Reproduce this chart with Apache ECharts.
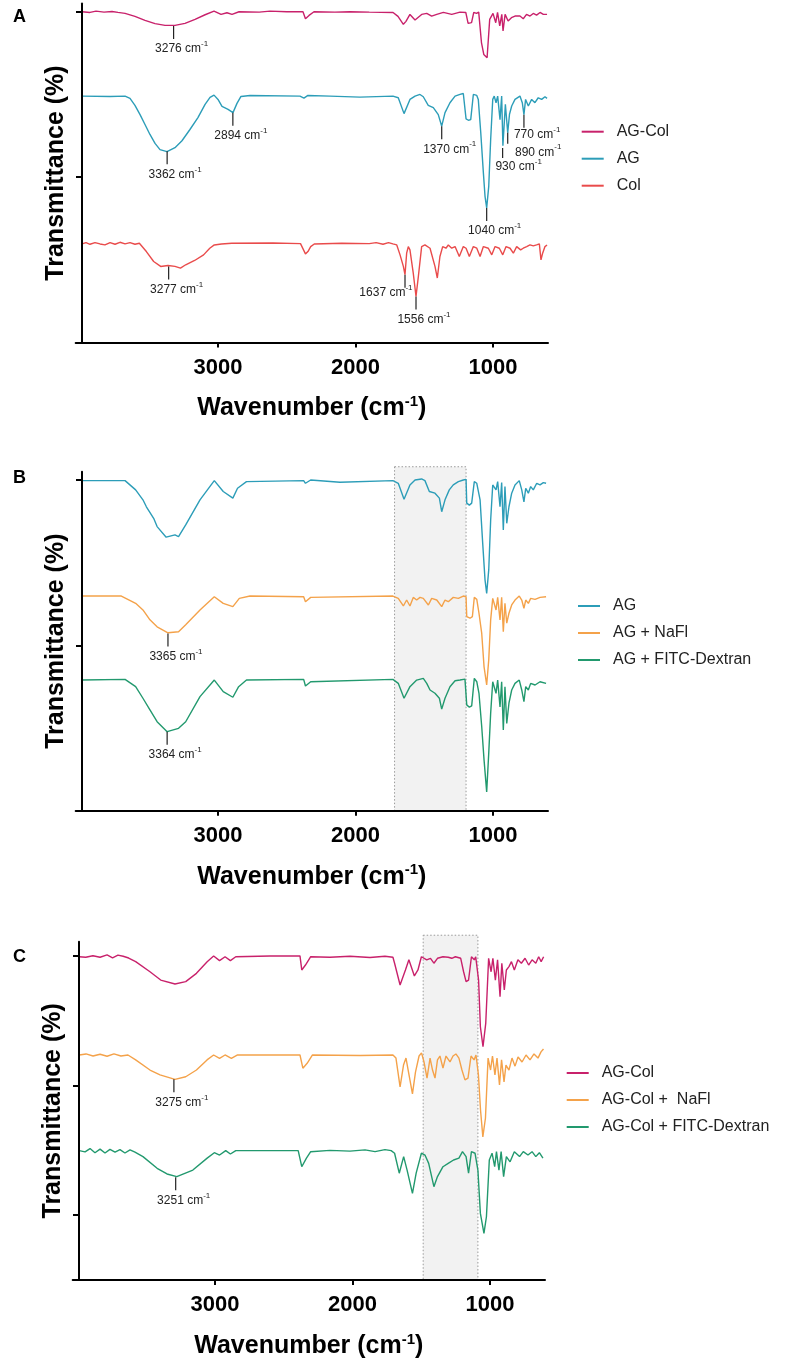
<!DOCTYPE html>
<html><head><meta charset="utf-8">
<script src="https://cdn.jsdelivr.net/npm/echarts@6/dist/echarts.min.js"></script>
<style>html,body{margin:0;padding:0;background:#fff}#c{width:787px;height:1365px}</style>
</head><body><div id="c"></div>
<script>
// ---------- DATA (wavenumber cm-1, stacked transmittance %) ----------
const X_TICKS = [1000, 2000, 3000];
const Y_TICKS = [0, 50, 100];

// Panel A
const AG_COL_A = [[3989,100],[3931,99.8],[3887,100.2],[3829,99.9],[3771,100.1],[3728,99.8],[3676,99.5],[3604,98.6],[3531,97.4],[3458,96.4],[3385,95.9],[3313,95.9],[3240,96.5],[3167,97.7],[3094,99.1],[3029,100.2],[2978,99.2],[2935,99.7],[2898,99.2],[2847,100],[2700,99.9],[2622,100.2],[2500,100],[2382,100],[2364,97.9],[2338,98.9],[2302,100],[2150,99.9],[2040,100],[1900,99.9],[1727,99.8],[1691,98.6],[1652,96.2],[1633,97.1],[1604,99.2],[1567,97.5],[1519,99.2],[1482,99.5],[1446,98.7],[1409,99.2],[1361,99.8],[1300,99.2],[1240,99.9],[1198,99.8],[1181,96.5],[1156,96.7],[1140,99.8],[1120,99.5],[1104,99.9],[1084,90.7],[1067,87.1],[1043,86.1],[1024,97.7],[1000,99.5],[980,96.7],[967,99.8],[951,95.7],[936,99.2],[927,94.2],[912,99.2],[890,97.2],[866,98.2],[840,98.7],[804,98.7],[780,97.9],[756,99.2],[731,98.7],[707,99.5],[683,99.0],[658,99.8],[634,99.2],[622,99.8],[607,99.2]];
const AG_A = [[3989,74.5],[3785,74.4],[3676,74.5],[3640,73.8],[3604,71.7],[3567,68.9],[3531,65.9],[3495,62.9],[3458,60.2],[3422,58.3],[3371,57.7],[3313,58.9],[3262,61.0],[3204,64.4],[3146,68.0],[3094,72.0],[3058,74.1],[3029,74.8],[3000,73.5],[2971,71.4],[2927,70.5],[2891,69.5],[2862,72.3],[2833,74.4],[2767,74.7],[2404,74.5],[2375,73.9],[2346,74.7],[2186,74.5],[1968,74.2],[1728,74.5],[1689,74.0],[1647,69.2],[1604,73.5],[1567,74.5],[1531,75.0],[1507,74.3],[1471,71.7],[1434,71.0],[1398,68.9],[1373,65.4],[1349,69.5],[1313,72.5],[1276,74.5],[1240,75.0],[1216,75.3],[1196,67.6],[1179,67.2],[1162,67.4],[1143,75.0],[1131,74.5],[1118,74.7],[1107,73.5],[1089,63.4],[1070,51.3],[1058,44.2],[1046,40.7],[1031,47.2],[1017,61.4],[1002,73.5],[991,74.5],[978,72.5],[966,74.5],[949,67.4],[937,74.5],[928,59.5],[910,72],[893,63.4],[880,69],[864,71.5],[840,73.5],[804,74.5],[787,72.5],[775,68.9],[763,73.5],[743,71.5],[719,73.5],[695,72.5],[671,74.0],[646,73.5],[622,74.3],[607,73.8]];
const COL_A = [[3989,29.8],[3960,30.2],[3931,29.7],[3895,30.2],[3858,29.8],[3822,29.5],[3785,30.2],[3749,29.7],[3713,30.3],[3676,29.8],[3640,30.2],[3604,29.7],[3572,30.0],[3521,27.5],[3468,24.5],[3417,23.0],[3364,23.3],[3313,23.0],[3273,22.5],[3235,23.5],[3170,24.8],[3105,26.5],[3060,28.5],[3027,29.5],[2975,29.8],[2900,30],[2600,30.1],[2400,29.9],[2364,26.8],[2346,27.5],[2326,29.0],[2300,29.8],[2100,30],[1900,29.9],[1850,30.2],[1800,29.7],[1760,30.2],[1728,29.8],[1700,29.5],[1676,26.5],[1652,23.0],[1640,20.5],[1628,27.0],[1616,29.0],[1604,28.0],[1580,21.0],[1560,13.9],[1543,19.9],[1519,29.0],[1495,29.5],[1458,28.5],[1422,23.0],[1405,19.5],[1386,26.0],[1366,29.0],[1342,28.5],[1325,29.5],[1300,28.5],[1276,29.0],[1245,26.0],[1216,29.0],[1196,28.5],[1172,26.0],[1143,29.0],[1118,28.5],[1094,26.0],[1070,29.0],[1034,28.5],[1009,26.5],[985,29.0],[954,28.5],[929,26.5],[905,29.0],[876,28.5],[852,27.0],[828,29.0],[799,28.0],[780,28.5],[755,29.0],[731,29.5],[707,29.2],[683,29.5],[663,29.8],[651,25.0],[639,27.0],[622,29.0],[607,29.5]];

// Panel B
const AG_B = [[3989,99.8],[3676,99.8],[3599,97.0],[3546,94.0],[3521,91.9],[3468,88.4],[3443,85.9],[3377,82.7],[3313,83.4],[3287,82.9],[3235,86.4],[3131,94.0],[3027,99.8],[2962,96.5],[2892,94.5],[2858,97.5],[2793,99.5],[2377,99.8],[2364,99.0],[2326,100],[2113,99.3],[1728,99.8],[1689,99.0],[1647,94.2],[1604,98.5],[1567,100],[1519,100.3],[1495,99.8],[1463,96.5],[1422,96.0],[1390,94.5],[1373,90.4],[1349,94.0],[1318,97.0],[1289,98.5],[1252,99.5],[1216,100],[1196,100.2],[1191,93.0],[1172,92.4],[1155,93.0],[1136,99.5],[1118,99.0],[1107,99.2],[1094,94.0],[1075,80.9],[1058,69.8],[1046,65.7],[1031,72.8],[1017,87.9],[1002,98.5],[990,99.0],[978,97.0],[966,99.5],[949,91.9],[937,99.2],[925,84.9],[913,98.0],[900,86.9],[884,91.9],[864,96.0],[840,98.5],[809,99.8],[791,97.0],[775,93.4],[762,97.5],[743,96.0],[726,98.0],[707,97.0],[682,99.0],[658,98.5],[634,99.2],[614,99.0]];
const AG_NAFL_B = [[3989,64.9],[3703,64.9],[3599,62.7],[3546,60.7],[3495,57.7],[3443,55.6],[3364,53.8],[3287,54.1],[3235,56.2],[3131,60.7],[3027,64.7],[2962,62.7],[2892,61.7],[2845,64.2],[2767,64.9],[2377,64.7],[2364,63.2],[2326,64.5],[1728,64.9],[1689,64.2],[1652,61.9],[1628,63.7],[1604,61.9],[1580,64.5],[1555,63.7],[1531,64.5],[1507,64.2],[1470,62.2],[1446,64.2],[1409,63.7],[1373,61.7],[1349,63.7],[1325,63.2],[1289,64.5],[1252,64.2],[1216,64.9],[1196,64.7],[1191,58.7],[1167,58.2],[1150,58.7],[1136,64.5],[1118,63.9],[1102,59.7],[1082,53.6],[1065,43.5],[1046,38.0],[1031,45.6],[1017,57.7],[1002,64.2],[990,63.7],[978,60.7],[966,64.5],[949,57.7],[937,64.5],[925,54.1],[913,62.7],[900,56.7],[884,59.7],[864,62.2],[840,63.7],[809,64.9],[791,63.7],[775,61.2],[762,63.7],[743,62.7],[726,64.2],[694,63.9],[658,64.5],[614,64.7]];
const AG_FITC_B = [[3989,39.5],[3676,39.7],[3599,37.5],[3546,34.0],[3495,30.5],[3443,26.9],[3370,23.9],[3287,24.9],[3235,26.9],[3131,34.5],[3027,39.5],[2962,36.0],[2892,34.3],[2850,37.5],[2793,39.5],[2377,39.7],[2364,37.7],[2326,39.0],[1728,39.7],[1689,38.5],[1647,34.0],[1604,37.5],[1555,39.5],[1507,40.0],[1482,38.5],[1458,36.5],[1422,35.5],[1390,34.0],[1373,30.7],[1349,34.0],[1313,37.5],[1276,39.3],[1240,39.5],[1204,39.8],[1191,32.0],[1172,31.3],[1155,31.7],[1136,40.0],[1118,39.0],[1102,35.5],[1082,25.4],[1065,15.3],[1046,5.7],[1031,17.4],[1017,29.5],[1002,39.0],[990,38.5],[978,35.5],[966,39.5],[949,31.4],[937,39.0],[925,24.4],[913,37.5],[900,26.4],[884,32.5],[864,36.5],[840,38.5],[809,39.5],[791,36.5],[775,33.0],[762,37.5],[743,36.5],[726,38.5],[694,38.0],[658,39.0],[614,38.5]];

// Panel C
const AG_COL_C = [[3987,99.7],[3940,99.5],[3888,100.1],[3836,99.5],[3785,100.4],[3745,99.3],[3706,100.3],[3668,99.9],[3628,99.2],[3577,97.8],[3473,93.9],[3395,90.7],[3291,89.2],[3213,90.1],[3135,93.3],[3057,97.8],[3010,100],[2967,98.2],[2927,99.7],[2888,98.2],[2849,99.7],[2600,100],[2382,100],[2369,94.6],[2342,96.5],[2304,99.7],[2164,99.5],[2018,99.9],[1873,99.4],[1764,99.9],[1706,99.5],[1694,97.2],[1654,88.8],[1615,94.6],[1590,98.5],[1550,92.3],[1524,94.6],[1499,99.7],[1460,98.5],[1433,99.1],[1408,97.2],[1382,99.1],[1342,99.7],[1304,99.5],[1278,99.1],[1252,99.7],[1213,99.1],[1192,93.9],[1174,90.1],[1156,90.7],[1135,99.7],[1114,98.5],[1104,99.7],[1083,90.7],[1070,72.7],[1051,65.0],[1031,74.0],[1010,99.1],[992,93.9],[979,99.1],[961,90.7],[945,98.5],[927,84.3],[914,97.2],[896,86.9],[881,94.6],[862,95.9],[844,97.8],[823,94.6],[797,98.5],[772,97.2],[745,99.1],[719,96.5],[694,98.5],[667,97.2],[646,99.7],[628,97.8],[610,99.7]];
const AG_COL_NAFL_C = [[3987,61.8],[3938,62.2],[3887,61.4],[3836,62.1],[3785,61.3],[3735,62.2],[3684,61.4],[3633,61.8],[3577,59.9],[3473,56.0],[3400,54.1],[3291,52.4],[3213,53.4],[3135,56.0],[3058,59.9],[3010,61.8],[2967,60.5],[2927,61.8],[2881,60.5],[2836,61.8],[2382,61.8],[2361,56.7],[2330,58.6],[2291,61.8],[1945,61.6],[1706,61.8],[1684,60.6],[1654,49.5],[1629,57.9],[1611,60.6],[1589,54.1],[1564,46.8],[1542,55.2],[1516,61.4],[1498,62.6],[1480,59.1],[1458,52.9],[1436,60.6],[1418,56.0],[1400,52.9],[1382,59.9],[1364,61.4],[1342,56.7],[1320,61.4],[1291,59.1],[1269,61.4],[1248,62.2],[1226,60.6],[1204,56.0],[1182,52.2],[1160,52.9],[1138,61.4],[1116,59.9],[1102,61.8],[1084,54.1],[1069,40.6],[1052,30.2],[1033,37.5],[1014,60.6],[996,56.0],[982,61.4],[964,54.1],[949,60.6],[931,50.2],[916,59.9],[898,51.4],[884,57.9],[862,56.0],[840,60.6],[818,57.5],[796,61.0],[767,59.1],[738,61.8],[709,59.9],[680,62.2],[651,60.6],[629,63.0],[611,64.1]];
const AG_COL_FITC_C = [[3987,24.9],[3945,24.4],[3909,25.7],[3873,24.1],[3836,25.5],[3800,24.0],[3764,25.4],[3727,24.3],[3691,25.3],[3655,24.0],[3618,25.2],[3582,24.3],[3524,22.6],[3421,18.1],[3349,15.9],[3278,14.9],[3161,17.4],[3057,22.0],[3005,24.1],[2967,23.2],[2922,24.9],[2888,23.6],[2849,24.9],[2395,24.9],[2369,18.7],[2335,22.0],[2304,24.5],[2164,25.0],[2018,24.7],[1909,25.2],[1836,24.5],[1764,25.3],[1719,24.9],[1694,23.9],[1660,16.2],[1628,22.6],[1603,17.4],[1564,8.4],[1537,16.2],[1499,23.9],[1473,23.2],[1446,20.0],[1408,11.0],[1382,14.9],[1342,18.7],[1304,20.0],[1265,21.3],[1226,22.0],[1200,24.5],[1174,22.6],[1156,16.2],[1135,24.5],[1109,23.9],[1088,17.4],[1070,0.7],[1044,-7.0],[1026,-0.6],[1005,21.3],[985,23.9],[966,18.7],[953,24.5],[935,17.4],[919,24.5],[901,14.9],[881,22.6],[854,20.6],[823,24.5],[785,22.6],[758,24.5],[724,23.2],[694,24.5],[667,22.6],[641,24.1],[615,22.0]];

// Peak annotations: wavenumber position, transmittance at peak, label
const ANN_A = [
  {w:3323, v:95.7, text:'3276'}, {w:3370, v:57.8, text:'3362'}, {w:2892, v:69.5, text:'2894'},
  {w:1373, v:65.4, text:'1370'}, {w:1046, v:40.7, text:'1040'}, {w:930, v:58.8, text:'930'},
  {w:893, v:63.4, text:'890'}, {w:775, v:68.9, text:'770'}, {w:3359, v:23.0, text:'3277'},
  {w:1640, v:20.5, text:'1637'}, {w:1560, v:13.9, text:'1556'}
];
const ANN_B = [{w:3364, v:53.6, text:'3365'}, {w:3370, v:23.9, text:'3364'}];
const ANN_C = [{w:3299, v:52.4, text:'3275'}, {w:3286, v:14.6, text:'3251'}];

// Highlighted regions [from, to, top, bottom]
const BOX_B = [1716, 1196, 104, 0];
const BOX_C = [1486, 1088, 108, -25];

const LEGEND_A = ['AG-Col', 'AG', 'Col'];
const LEGEND_B = ['AG', 'AG + NaFl', 'AG + FITC-Dextran'];
const LEGEND_C = ['AG-Col', 'AG-Col +  NaFl', 'AG-Col + FITC-Dextran'];

// ---------- STYLE / LAYOUT ----------
const FONT = '"Liberation Sans", Arial, Helvetica, sans-serif';
const COLOR = {agcol:'#c8216b', ag:'#2c9db8', col:'#e94b4b', nafl:'#f4a24a', fitc:'#22996e'};
const GRIDS = [
  {left:75.7, top:3.5, width:472.3, height:339},
  {left:75.7, top:471.7, width:472.3, height:339},
  {left:72.7, top:941.7, width:472.3, height:338.3}
];
const YR = [[0,102.5],[0,102.5],[-25,105.5]];
const ANN_LAYOUT = {
  '930': {dx:16, dy:18.4, len:10},
  '890': {align:'left', dx:7.3, dy:19.4, len:11},
  '770': {align:'left', dx:-10, dy:20},
  '1637': {align:'right', dx:7.5, dy:18.3}
};

function annRender(list) {
  return function (params, api) {
    const a = list[params.dataIndex];
    const p = api.coord([api.value(0), api.value(1)]);
    const L = Object.assign({align:'center', dx:8, dy:23, len:13}, ANN_LAYOUT[a.text] || {});
    return {type:'group', children:[
      {type:'line', shape:{x1:p[0], y1:p[1], x2:p[0], y2:p[1] + L.len}, style:{stroke:'#222', lineWidth:1.2}},
      {type:'text', x:p[0] + L.dx, y:p[1] + L.dy, style:{
        text:'{n|' + a.text + ' cm}{s|-1}', align:L.align, verticalAlign:'middle',
        rich:{n:{fontSize:12, fontFamily:FONT, fill:'#222'}, s:{fontSize:8, fontFamily:FONT, fill:'#222', padding:[0,0,10,0]}}
      }}
    ]};
  };
}
function boxRender(params, api) {
  const p1 = api.coord([api.value(0), api.value(2)]);
  const p2 = api.coord([api.value(1), api.value(3)]);
  return {type:'rect', shape:{x:Math.min(p1[0],p2[0]), y:Math.min(p1[1],p2[1]), width:Math.abs(p2[0]-p1[0]), height:Math.abs(p2[1]-p1[1])},
    style:{fill:'#f2f2f2', stroke:'#9a9a9a', lineWidth:1, lineDash:[1.5,2]}};
}
function line(name, data, color, idx) {
  return {type:'line', name, data, xAxisIndex:idx, yAxisIndex:idx, showSymbol:false, symbol:'none', z:3,
    lineStyle:{color, width:1.4}, itemStyle:{color}, silent:true, animation:false};
}
function legend(data, left, top) {
  return {data, orient:'vertical', left, top, padding:0, icon:'rect', itemWidth:22, itemHeight:2, itemGap:11,
    selectedMode:false, textStyle:{fontSize:16, color:'#222', fontFamily:FONT, padding:[0,0,0,8]}};
}

const chart = echarts.init(document.getElementById('c'), null, {renderer:'canvas'});
chart.setOption({
  animation:false,
  backgroundColor:'#fff',
  grid: GRIDS,
  xAxis: GRIDS.map((g, i) => ({
    type:'value', gridIndex:i, min:600, max:4035, inverse:true, z:5,
    axisLine:{onZero:false, lineStyle:{color:'#000', width:2}},
    axisTick:{show:true, length:5, lineStyle:{color:'#000', width:2}, customValues:X_TICKS},
    axisLabel:{customValues:X_TICKS, formatter:(v) => String(v), margin:14, fontSize:22, fontWeight:'bold', color:'#000', fontFamily:FONT},
    splitLine:{show:false},
    name:'{b|Wavenumber (cm}{s|-1}{b|)}', nameLocation:'middle', nameGap:52,
    nameTextStyle:{rich:{
      b:{fontSize:25, fontWeight:'bold', color:'#000', fontFamily:FONT},
      s:{fontSize:15, fontWeight:'bold', color:'#000', fontFamily:FONT, padding:[0,0,13,0]}
    }}
  })),
  yAxis: GRIDS.map((g, i) => ({
    type:'value', gridIndex:i, min:YR[i][0], max:YR[i][1], offset:-6.3, z:5,
    axisLine:{show:true, onZero:false, lineStyle:{color:'#000', width:2}},
    axisTick:{show:true, length:6, lineStyle:{color:'#000', width:2}, customValues:Y_TICKS},
    axisLabel:{show:false}, splitLine:{show:false},
    name:'Transmittance (%)', nameLocation:'middle', nameGap:13,
    nameTextStyle:{fontSize:25, fontWeight:'bold', color:'#000', fontFamily:FONT}
  })),
  legend:[legend(LEGEND_A, 581.7, 123.7), legend(LEGEND_B, 578, 598), legend(LEGEND_C, 566.7, 1065)],
  graphic:[
    {type:'text', x:19.6, y:16.7, style:{text:'A', font:'bold 18px ' + FONT, fill:'#000', align:'center', verticalAlign:'middle'}},
    {type:'text', x:19.6, y:478.3, style:{text:'B', font:'bold 18px ' + FONT, fill:'#000', align:'center', verticalAlign:'middle'}},
    {type:'text', x:19.6, y:956.7, style:{text:'C', font:'bold 18px ' + FONT, fill:'#000', align:'center', verticalAlign:'middle'}}
  ],
  series:[
    {type:'custom', xAxisIndex:1, yAxisIndex:1, z:1, silent:true, clip:false, encode:{x:[0,1], y:[2,3]}, data:[BOX_B], renderItem:boxRender},
    {type:'custom', xAxisIndex:2, yAxisIndex:2, z:1, silent:true, clip:false, encode:{x:[0,1], y:[2,3]}, data:[BOX_C], renderItem:boxRender},
    line('AG-Col', AG_COL_A, COLOR.agcol, 0),
    line('AG', AG_A, COLOR.ag, 0),
    line('Col', COL_A, COLOR.col, 0),
    line('AG', AG_B, COLOR.ag, 1),
    line('AG + NaFl', AG_NAFL_B, COLOR.nafl, 1),
    line('AG + FITC-Dextran', AG_FITC_B, COLOR.fitc, 1),
    line('AG-Col', AG_COL_C, COLOR.agcol, 2),
    line('AG-Col +  NaFl', AG_COL_NAFL_C, COLOR.nafl, 2),
    line('AG-Col + FITC-Dextran', AG_COL_FITC_C, COLOR.fitc, 2),
    {type:'custom', xAxisIndex:0, yAxisIndex:0, z:4, silent:true, clip:false, data:ANN_A.map(a => [a.w, a.v]), renderItem:annRender(ANN_A)},
    {type:'custom', xAxisIndex:1, yAxisIndex:1, z:4, silent:true, clip:false, data:ANN_B.map(a => [a.w, a.v]), renderItem:annRender(ANN_B)},
    {type:'custom', xAxisIndex:2, yAxisIndex:2, z:4, silent:true, clip:false, data:ANN_C.map(a => [a.w, a.v]), renderItem:annRender(ANN_C)}
  ]
});
</script>
</body></html>
